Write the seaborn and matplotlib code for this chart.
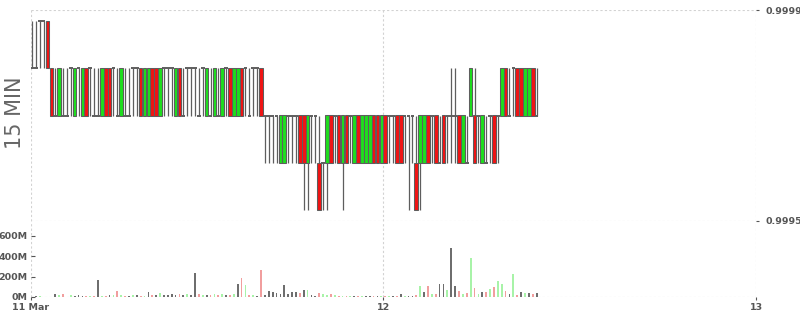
import numpy as np
import pandas as pd
import matplotlib
matplotlib.use("Agg")
import matplotlib.pyplot as plt
import matplotlib.dates as mdates
import seaborn as sns

# ---------------- data ----------------
price_levels = [0.99952, 0.99961, 0.99970, 0.99979, 0.99988]

open_lvl = [
    3, 3, 4, 4, 4, 3, 2, 2, 2, 2,
    3, 2, 3, 2, 3, 3, 2, 2, 2, 3,
    3, 3, 2, 2, 2, 2, 3, 3, 3, 2,
    2, 3, 3, 2, 3, 3, 3, 2, 3, 2,
    3, 3, 3, 2, 3, 2, 2, 2, 2, 2,
    3, 3, 2, 2, 3, 3, 2, 3, 3, 3,
    2, 2, 2, 2, 1, 1, 2, 2, 2, 2,
    2, 1, 2, 2, 1, 1, 1, 2, 2, 2,
    1, 2, 2, 1, 2, 1, 1, 1, 2, 2,
    1, 2, 2, 2, 2, 2, 2, 2, 2, 1,
    1, 1, 2, 2, 2, 1, 2, 2, 2, 2,
    2, 1, 1, 2, 2, 2, 1, 1, 2, 2,
    2, 2, 3, 2, 3, 3, 3, 2, 2, 3, 2]

close_lvl = [
    3, 3, 4, 4, 3, 2, 2, 3, 2, 2,
    3, 3, 3, 3, 2, 3, 2, 2, 3, 2,
    2, 3, 2, 3, 2, 2, 3, 3, 2, 3,
    3, 2, 2, 3, 3, 3, 3, 3, 2, 2,
    3, 3, 3, 2, 3, 3, 2, 3, 2, 3,
    3, 2, 3, 3, 2, 3, 2, 3, 3, 2,
    2, 2, 2, 2, 2, 2, 2, 2, 2, 1,
    1, 2, 2, 2, 0, 1, 2, 1, 2, 1,
    2, 1, 2, 2, 1, 2, 2, 2, 1, 1,
    2, 1, 2, 2, 1, 1, 2, 2, 2, 0,
    2, 2, 1, 2, 1, 1, 1, 2, 2, 2,
    1, 2, 1, 3, 1, 2, 2, 1, 2, 1,
    2, 3, 2, 2, 3, 2, 2, 3, 3, 2, 2]

low_lvl = [
    3, 3, 3, 3, 3, 2, 2, 2, 2, 2,
    2, 2, 2, 2, 2, 2, 2, 2, 2, 2,
    2, 2, 2, 2, 2, 2, 2, 2, 2, 2,
    2, 2, 2, 2, 2, 2, 2, 2, 2, 2,
    2, 2, 2, 2, 2, 2, 2, 2, 2, 2,
    2, 2, 2, 2, 2, 2, 2, 2, 2, 2,
    1, 1, 1, 1, 1, 1, 1, 1, 1, 1,
    0, 0, 1, 1, 0, 0, 0, 1, 1, 1,
    0, 1, 1, 1, 1, 1, 1, 1, 1, 1,
    1, 1, 1, 1, 1, 1, 1, 0, 1, 0,
    0, 1, 1, 1, 1, 1, 1, 1, 1, 1,
    1, 1, 1, 2, 1, 1, 1, 1, 1, 1,
    1, 2, 2, 2, 2, 2, 2, 2, 2, 2, 2]

high_lvl = [
    4, 4, 4, 4, 4, 3, 3, 3, 3, 3,
    3, 3, 3, 3, 3, 3, 3, 3, 3, 3,
    3, 3, 3, 3, 3, 3, 3, 3, 3, 3,
    3, 3, 3, 3, 3, 3, 3, 3, 3, 3,
    3, 3, 3, 3, 3, 3, 3, 3, 3, 3,
    3, 3, 3, 3, 3, 3, 3, 3, 3, 3,
    2, 2, 2, 2, 2, 2, 2, 2, 2, 2,
    2, 2, 2, 2, 2, 1, 2, 2, 2, 2,
    2, 2, 2, 2, 2, 2, 2, 2, 2, 2,
    2, 2, 2, 2, 2, 2, 2, 2, 2, 2,
    2, 2, 2, 2, 2, 2, 2, 2, 3, 3,
    2, 2, 2, 3, 3, 2, 2, 2, 2, 2,
    2, 3, 3, 3, 3, 3, 3, 3, 3, 3, 3]

volume_m = [
    3, 5, 8, 3, 3, 4, 26, 20, 26, 4,
    16, 5, 20, 13, 10, 7, 10, 162, 7, 10,
    20, 23, 55, 23, 10, 10, 20, 20, 10, 10,
    45, 20, 16, 36, 20, 20, 26, 23, 26, 20,
    26, 23, 237, 26, 16, 16, 23, 33, 20, 26,
    20, 23, 26, 124, 182, 114, 20, 23, 13, 260,
    23, 55, 45, 42, 26, 114, 26, 45, 45, 36,
    72, 72, 16, 5, 42, 26, 16, 26, 16, 13,
    7, 7, 5, 13, 7, 5, 5, 5, 5, 5,
    5, 7, 13, 7, 13, 33, 13, 13, 13, 23,
    104, 45, 104, 26, 33, 124, 124, 72, 475, 104,
    55, 26, 36, 377, 85, 26, 45, 45, 75, 94,
    153, 124, 55, 26, 221, 16, 45, 36, 36, 26, 36]

x_tick_labels = ["11 Mar", "12", "13"]
price_ticks = [0.9995, 0.9999]
volume_ticks = [0, 200, 400, 600]
panel_label = "15 MIN"

# ---------------- build table ----------------
start = pd.Timestamp("2024-03-11 01:15")
times = pd.date_range(start, periods=len(open_lvl), freq="15min")
centers = times + pd.Timedelta(minutes=7.5)
lv = np.array(price_levels)
df = pd.DataFrame({
    "t": mdates.date2num(centers.to_pydatetime()),
    "open": lv[open_lvl], "close": lv[close_lvl],
    "low": lv[low_lvl], "high": lv[high_lvl],
    "vol": np.array(volume_m, dtype=float),
})
dclose = np.diff(np.array(close_lvl), prepend=close_lvl[0])
df["dir"] = np.where(dclose > 0, "up", np.where(dclose < 0, "down", "flat"))

# ---------------- style ----------------
sns.set_theme(style="white")
plt.rcParams["font.family"] = ["DejaVu Sans"]

GREEN = "#1ede1e"
RED = "#f01414"
EDGE = "#5e5e5e"
GRID = "#d2d2d2"
TXT = "#555555"
vol_palette = {"up": "#9cff9c", "down": "#ff9090", "flat": "#6e6e6e"}

fig = plt.figure(figsize=(8, 3.15), dpi=100)
W, H = 800, 315
L, R = 30.7, 756
axp = fig.add_axes([L / W, (H - 221) / H, (R - L) / W, 211 / H])
axv = fig.add_axes([L / W, (H - 297) / H, (R - L) / W, 76 / H])

day12 = mdates.date2num(pd.Timestamp("2024-03-12").to_pydatetime())
day13 = mdates.date2num(pd.Timestamp("2024-03-13").to_pydatetime())
px_per_day = (R - 383.3)
xleft = day12 - (383.3 - L) / px_per_day
xticks = [xleft, day12, day13]

step = 1 / 96.0
bw = 0.93 * step

# wicks
axp.vlines(df["t"], df["low"], df["high"], color=EDGE, linewidth=0.9, zorder=2)
# bodies
up = df["close"] > df["open"]
dn = df["close"] < df["open"]
fl = df["close"] == df["open"]
for mask, col in [(up, GREEN), (dn, RED)]:
    sub = df[mask]
    bottom = np.minimum(sub["open"], sub["close"])
    height = np.abs(sub["close"] - sub["open"])
    axp.bar(sub["t"], height, bottom=bottom, width=bw, color=col,
            edgecolor=EDGE, linewidth=0.75, zorder=3)
subf = df[fl]
axp.hlines(subf["open"], subf["t"] - bw / 2, subf["t"] + bw / 2,
           color=EDGE, linewidth=1.4, zorder=3)

axp.set_xlim(xleft, day13)
axp.set_ylim(0.9995, 0.9999)
axp.set_xticks(xticks)
axp.set_yticks(price_ticks)
axp.set_yticklabels([f"{v:.5f}" for v in price_ticks])
axp.yaxis.tick_right()
axp.tick_params(axis="x", length=0, labelbottom=False)
axp.tick_params(axis="y", direction="out", length=2.5, width=0.8, color=TXT,
                pad=4, labelsize=6.8, labelcolor=TXT, right=True, left=False)
axp.grid(True, color=GRID, linestyle=(0, (2, 2)), linewidth=0.8)
axp.set_axisbelow(True)

# volume via seaborn (numeric time axis)
sns.barplot(data=df, x="t", y="vol", hue="dir",
            hue_order=["up", "down", "flat"], palette=vol_palette,
            native_scale=True, dodge=False, width=0.45, errorbar=None,
            linewidth=0, legend=False, ax=axv)
axv.set_xlim(xleft, day13)
axv.set_ylim(0, 742)
axv.set_yticks(volume_ticks)
axv.set_yticklabels([f"{v}M" for v in volume_ticks])
axv.set_xticks(xticks)
axv.set_xticklabels(x_tick_labels)
axv.set_xlabel("")
axv.set_ylabel("")
axv.tick_params(axis="y", direction="in", length=3, width=0.8, color=TXT,
                pad=2.5, labelsize=6.8, labelcolor=TXT, left=True)
axv.tick_params(axis="x", direction="out", length=2.5, width=0.8, color=TXT,
                pad=2, labelsize=6.8, labelcolor=TXT, bottom=True)
axv.grid(True, axis="x", color=GRID, linestyle=(0, (2, 2)), linewidth=0.8)
axv.axhline(0, color=GRID, linestyle=(0, (2, 2)), linewidth=0.8, zorder=0)
axv.set_axisbelow(True)
axv.patch.set_alpha(0)

for ax in (axp, axv):
    for s in ax.spines.values():
        s.set_visible(False)
    for lab in ax.get_xticklabels() + ax.get_yticklabels():
        lab.set_fontweight("bold")

fig.text(15 / W, 1 - 113 / H, panel_label, rotation=90, ha="center", va="center",
         fontsize=15, color="#666666")

fig.savefig("out.png", dpi=100)
